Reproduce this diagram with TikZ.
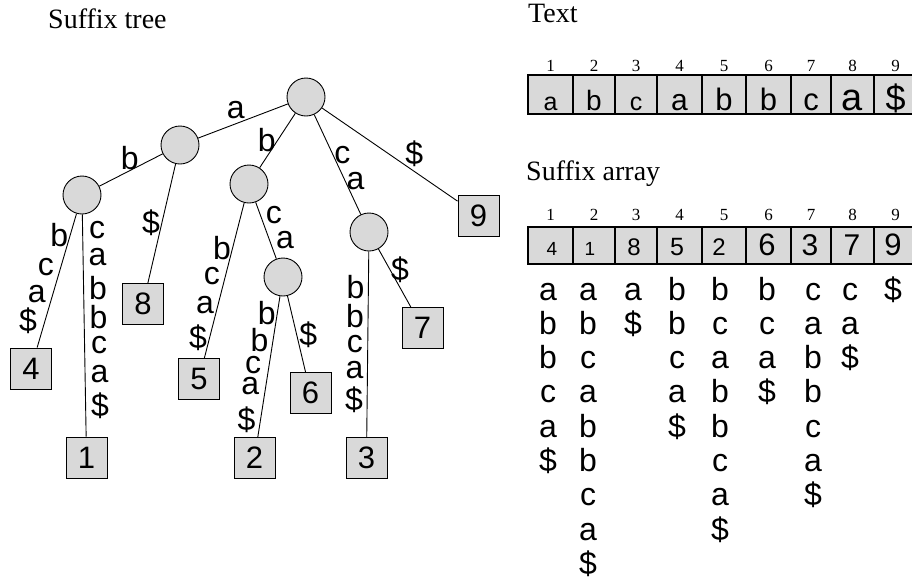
\documentclass[tikz,border=0pt]{standalone}
\usepackage{fontspec}
\setmainfont{Liberation Serif}
\setsansfont{Liberation Sans}
\usetikzlibrary{positioning}

\definecolor{cellgray}{RGB}{217,217,217}
\newcommand{\edgefont}{\sffamily\fontsize{32}{34}\selectfont}
\newcommand{\leaffont}{\sffamily\fontsize{31}{34}\selectfont}
\newcommand{\titlefont}{\rmfamily\fontsize{28}{32}\selectfont}
\newcommand{\idxfont}{\rmfamily\fontsize{17}{20}\selectfont}

\begin{document}
\begin{tikzpicture}[x=1pt, y=-1pt,
    inner/.style={circle, draw, line width=0.9pt, fill=cellgray, minimum size=38pt, inner sep=0pt},
    leaf/.style={rectangle, draw, line width=0.9pt, fill=cellgray, minimum size=41pt, inner sep=0pt, font=\leaffont},
    lbl/.style={inner sep=0pt, font=\edgefont},
    edge/.style={line width=0.9pt},
    cell/.style={rectangle, draw, line width=2pt, fill=cellgray, inner sep=0pt, outer sep=0pt, anchor=north west},
    idx/.style={inner sep=0pt, anchor=base, font=\idxfont},
    title/.style={inner sep=0pt, anchor=base west, font=\titlefont}]
  \useasboundingbox (0,0) rectangle (912,582);

  % titles
  \node[title] (ttree) at (48,28) {Suffix tree};
  \node[title] (ttext) at (528,22) {Text};
  \node[title] (tsa) at (526,180) {Suffix array};

  % suffix tree: inner nodes
  \node[inner] (root) at (306,97) {};
  \node[inner] (na)   at (180,145) {};
  \node[inner] (nab)  at (82,195) {};
  \node[inner] (nb)   at (249,184) {};
  \node[inner] (nbca) at (283,277) {};
  \node[inner] (nca)  at (369,232) {};

  % leaves, numbered by suffix start
  \node[leaf] (l4) at (31,368.5) {4};
  \node[leaf] (l1) at (86.5,457.5) {1};
  \node[leaf] (l8) at (143,304) {8};
  \node[leaf] (l5) at (199,379) {5};
  \node[leaf] (l2) at (254.5,458) {2};
  \node[leaf] (l6) at (310.5,393) {6};
  \node[leaf] (l3) at (366.5,458) {3};
  \node[leaf] (l7) at (422.5,328) {7};
  \node[leaf] (l9) at (478.5,215.5) {9};

  % edges with their labels
  \draw[edge] (root) -- (na) node[lbl, pos=.58, yshift=14pt] {a};
  \draw[edge] (na) -- (nab) node[lbl, pos=.52, yshift=13pt] {b};
  \draw[edge] (na) -- (l8) node[lbl, pos=.49, xshift=-11pt] {\$};
  \draw[edge] (nab) -- (l4)
    node[lbl, pos=.16, xshift=-11pt] {b}
    node[lbl, pos=.40, xshift=-15pt] {c}
    node[lbl, pos=.60, xshift=-16pt] {a}
    node[lbl, pos=.80, xshift=-17pt] {\$};
  \draw[edge] (nab) -- (l1)
    node[lbl, pos=.07, xshift=14.5pt] {c}
    node[lbl, pos=.19, xshift=14.5pt] {a}
    node[lbl, pos=.33, xshift=14.5pt] {b}
    node[lbl, pos=.46, xshift=14.5pt] {b}
    node[lbl, pos=.59, xshift=14.5pt] {c}
    node[lbl, pos=.72, xshift=14.5pt] {a}
    node[lbl, pos=.86, xshift=14.5pt] {\$};
  \draw[edge] (root) -- (nb) node[lbl, pos=.49, xshift=-11pt] {b};
  \draw[edge] (nb) -- (l5)
    node[lbl, pos=.29, xshift=-10.5pt] {b}
    node[lbl, pos=.47, xshift=-13.5pt] {c}
    node[lbl, pos=.66, xshift=-13pt] {a}
    node[lbl, pos=.87, xshift=-11.5pt] {\$};
  \draw[edge] (nb) -- (nbca)
    node[lbl, pos=.23, xshift=13.5pt] {c}
    node[lbl, pos=.67, xshift=15.5pt] {a};
  \draw[edge] (nbca) -- (l2)
    node[lbl, pos=.12, xshift=-10.5pt] {b}
    node[lbl, pos=.31, xshift=-13.5pt] {b}
    node[lbl, pos=.49, xshift=-16pt] {c}
    node[lbl, pos=.64, xshift=-15.5pt] {a}
    node[lbl, pos=.88, xshift=-14pt] {\$};
  \draw[edge] (nbca) -- (l6) node[lbl, pos=.51, xshift=11.5pt] {\$};
  \draw[edge] (root) -- (nca)
    node[lbl, pos=.41, xshift=9pt] {c}
    node[lbl, pos=.67, xshift=10pt] {a};
  \draw[edge] (nca) -- (l3)
    node[lbl, pos=.19, xshift=-13pt] {b}
    node[lbl, pos=.35, xshift=-13pt] {b}
    node[lbl, pos=.50, xshift=-13pt] {c}
    node[lbl, pos=.64, xshift=-13pt] {a}
    node[lbl, pos=.80, xshift=-13pt] {\$};
  \draw[edge] (nca) -- (l7) node[lbl, pos=.36, xshift=10pt] {\$};
  \draw[edge] (root) -- (l9) node[lbl, pos=.68, yshift=18pt] {\$};

  % text
  \foreach \l/\r/\ch/\sz [count=\i] in {528/573/a/25, 573/615/b/28, 615/657/c/25,
      657/702/a/30, 702/746/b/31, 746/791/b/31, 791/831/c/31, 831/874/a/38, 874/917/\$/36}{
    \pgfmathsetmacro\w{\r-\l}
    \node[cell, minimum width=\w pt, minimum height=39pt] (t\i) at (\l,75) {};
    \node[inner sep=0pt, anchor=base, font=\sffamily\fontsize{\sz}{\sz}\selectfont] (tc\i) at ({(\l+\r)/2},110) {\ch};
    \node[idx] (ti\i) at ({(\l+\r)/2},71) {\i};
  }

  % suffix array
  \foreach \l/\r/\v/\sz/\x [count=\i] in {528/573/4/19/552, 573/615/1/19/590, 615/657/8/24/634,
      657/702/5/25/677, 702/746/2/24/719, 746/791/6/31/767, 791/831/3/30/810, 831/874/7/30/852, 874/917/9/31/893}{
    \pgfmathsetmacro\w{\r-\l}
    \node[cell, minimum width=\w pt, minimum height=37pt] (s\i) at (\l,227) {};
    \node[inner sep=0pt, anchor=base, font=\sffamily\fontsize{\sz}{\sz}\selectfont] (sv\i) at (\x,255) {\v};
    \node[idx] (si\i) at ({(\l+\r)/2},220) {\i};
  }

  % the sorted suffixes, one column per entry
  \foreach \x/\suf [count=\i] in {548/{a,b,b,c,a,\$}, 588/{a,b,c,a,b,b,c,a,\$}, 633/{a,\$},
      677/{b,b,c,a,\$}, 720/{b,c,a,b,b,c,a,\$}, 767/{b,c,a,\$}, 813/{c,a,b,b,c,a,\$},
      850/{c,a,\$}, 893/{\$}}
    \foreach \ch [count=\k] in \suf
      \node[inner sep=0pt, anchor=base, font=\edgefont] (suf\i-\k) at (\x,{300+34.3*(\k-1)}) {\ch};
\end{tikzpicture}
\end{document}
